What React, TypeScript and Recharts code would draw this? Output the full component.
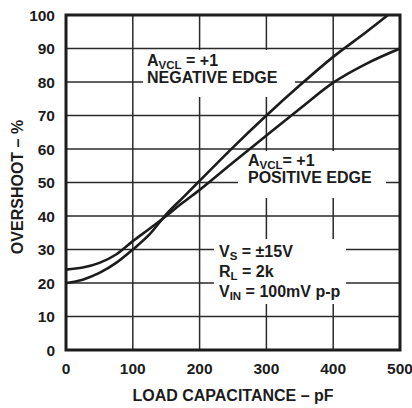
import React from "react";
import {
  LineChart,
  Line,
  XAxis,
  YAxis,
  CartesianGrid,
  ReferenceArea,
  Customized,
} from "recharts";

// load capacitance (pF) and overshoot (%)
const capNeg = [0, 25, 50, 75, 100, 125, 150, 175, 200, 250, 300, 350, 400, 450, 482];
const overNeg = [20, 21, 23, 26, 30, 34.5, 40.5, 45.5, 50.5, 60.5, 70, 79, 87.5, 95, 100];

const capPos = [0, 25, 50, 75, 100, 125, 150, 175, 200, 250, 300, 350, 400, 450, 500];
const overPos = [24, 24.6, 26, 28.5, 32.5, 36.2, 40, 44, 47.8, 56, 64, 72, 79.8, 85.5, 90];

const xTicks = [0, 100, 200, 300, 400, 500];
const yTicks = [0, 10, 20, 30, 40, 50, 60, 70, 80, 90, 100];

const negData = capNeg.map((c, i) => ({ c, v: overNeg[i] }));
const posData = capPos.map((c, i) => ({ c, v: overPos[i] }));

const FONT = "'Liberation Sans', Arial, Helvetica, sans-serif";
const INK = "#1c1c1c";

function Annotations() {
  const t = { fontFamily: FONT, fontWeight: 700, fontSize: 16, fill: INK };
  const sub = { fontSize: 11.5 };
  return (
    <g>
      {/* white patches that break the grid behind the notes */}
      <rect x={143} y={50} width={152} height={47} fill="#fff" />
      <rect x={238} y={151} width={148} height={47} fill="#fff" />
      <rect x={214} y={239} width={132} height={65} fill="#fff" />

      <text {...t} x={147} y={66}>
        A<tspan {...sub} dy={2.5}>VCL</tspan>
        <tspan dy={-2.5}> = +1</tspan>
      </text>
      <text {...t} x={147} y={83}>NEGATIVE EDGE</text>

      <text {...t} x={248} y={166}>
        A<tspan {...sub} dy={2.5}>VCL</tspan>
        <tspan dy={-2.5}>= +1</tspan>
      </text>
      <text {...t} x={248} y={183}>POSITIVE EDGE</text>

      <text {...t} x={219} y={257}>
        V<tspan {...sub} dy={3}>S</tspan>
        <tspan dy={-3}> = ±15V</tspan>
      </text>
      <text {...t} x={219} y={277}>
        R<tspan {...sub} dy={3}>L</tspan>
        <tspan dy={-3}> = 2k</tspan>
      </text>
      <text {...t} x={219} y={297}>
        V<tspan {...sub} dy={3}>IN</tspan>
        <tspan dy={-3}> = 100mV p-p</tspan>
      </text>

      <text {...t} x={233} y={401} textAnchor="middle">
        LOAD CAPACITANCE – pF
      </text>
      <text
        {...t}
        x={23}
        y={187}
        textAnchor="middle"
        transform="rotate(-90 23 187)"
      >
        OVERSHOOT – %
      </text>
    </g>
  );
}

export default function App() {
  const tick = { fontFamily: FONT, fontWeight: 700, fontSize: 15.5, fill: INK };
  return (
    <div style={{ position: "absolute", left: 0, top: 0, background: "#fff" }}>
      <LineChart
        width={412}
        height={408}
        margin={{ top: 15, right: 12, bottom: 0, left: 0 }}
      >
        <CartesianGrid stroke="#2a2a2a" strokeWidth={1.5} />
        <XAxis
          type="number"
          dataKey="c"
          domain={[0, 500]}
          ticks={xTicks}
          interval={0}
          axisLine={false}
          tickLine={false}
          tickSize={10}
          tickMargin={3}
          height={58}
          tick={tick}
          allowDataOverflow
        />
        <YAxis
          type="number"
          dataKey="v"
          domain={[0, 100]}
          ticks={yTicks}
          interval={0}
          axisLine={false}
          tickLine={false}
          tickSize={8}
          tickMargin={3}
          width={66}
          tick={tick}
          allowDataOverflow
        />
        <Customized component={Annotations} />
        <Line
          data={negData}
          dataKey="v"
          type="monotone"
          stroke={INK}
          strokeWidth={2.6}
          dot={false}
          isAnimationActive={false}
        />
        <Line
          data={posData}
          dataKey="v"
          type="monotone"
          stroke={INK}
          strokeWidth={2.6}
          dot={false}
          isAnimationActive={false}
        />
        <ReferenceArea x1={0} x2={500} y1={0} y2={100} fill="none" stroke={INK} strokeWidth={3} />
      </LineChart>
    </div>
  );
}
